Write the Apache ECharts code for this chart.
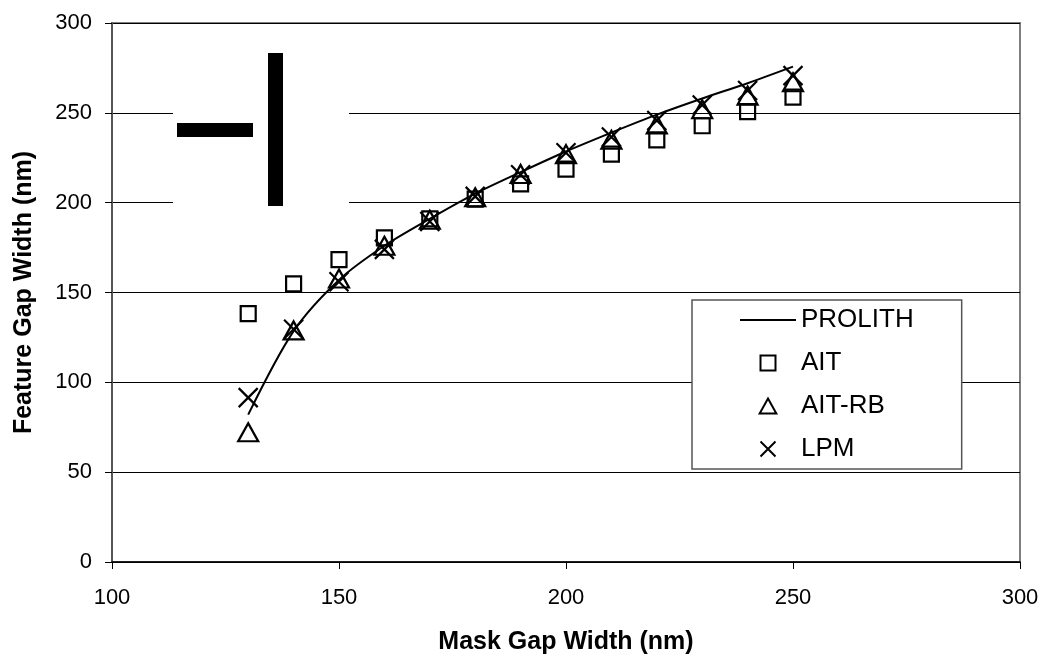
<!DOCTYPE html>
<html>
<head>
<meta charset="utf-8">
<script src="https://cdn.jsdelivr.net/npm/echarts@6/dist/echarts.min.js"></script>
<style>
  html, body { margin: 0; padding: 0; background: #fff; }
  #chart { width: 1046px; height: 660px; }
</style>
</head>
<body>
<div id="chart"></div>
<script>
const maskGap = [130, 140, 150, 160, 170, 180, 190, 200, 210, 220, 230, 240, 250];
const prolith = [82, 128.5, 157, 176, 191, 205, 217, 228.5, 239, 249, 258, 266.5, 275.7];
const ait     = [138.2, 154.8, 168.3, 180.4, 191, 202, 210.5, 218.7, 227, 235, 242.8, 250.7, 258.7];
const aitRb   = [72.2, 128.9, 157.8, 176, 190.5, 203, 216, 227, 235, 243.5, 252, 259.6, 267];
const lpm     = [91.5, 129.5, 156, 174, 189.5, 203.5, 215.5, 227.8, 236.5, 245.7, 254.4, 262.4, 270.7];
const seriesNames = ['PROLITH', 'AIT', 'AIT-RB', 'LPM'];
const xTicks = { min: 100, max: 300, interval: 50 };
const yTicks = { min: 0, max: 300, interval: 50 };

const pairs = (xs, ys) => xs.map((x, i) => [x, ys[i]]);
const FONT = 'Arial, "Liberation Sans", sans-serif';
const linePath = 'path://M0,0H28V1H0Z';
const squarePath = 'path://M0,0H10V10H0Z';
const trianglePath = 'path://M5,0L10,9H0Z';
const crossPath = 'path://M0,0L10,10M10,0L0,10';

const chart = echarts.init(document.getElementById('chart'), null, { renderer: 'canvas' });
chart.setOption({
  animation: false,
  backgroundColor: '#fff',
  textStyle: { fontFamily: FONT },
  grid: {
    left: 112, right: 26, top: 23, bottom: 97,
    show: true, borderColor: '#808080', borderWidth: 2, backgroundColor: 'transparent'
  },
  xAxis: {
    type: 'value', min: xTicks.min, max: xTicks.max, interval: xTicks.interval,
    name: 'Mask Gap Width (nm)', nameLocation: 'middle', nameGap: 68,
    nameTextStyle: { fontFamily: FONT, fontWeight: 'bold', fontSize: 25, color: '#000' },
    axisLine: { show: true, onZero: false, lineStyle: { color: '#000', width: 1.5 } },
    axisTick: { show: true, inside: false, length: 7, lineStyle: { color: '#000', width: 1 } },
    axisLabel: { fontFamily: FONT, fontSize: 22, color: '#000', margin: 25 },
    splitLine: { show: false }
  },
  yAxis: {
    type: 'value', min: yTicks.min, max: yTicks.max, interval: yTicks.interval,
    name: 'Feature Gap Width (nm)', nameLocation: 'middle', nameGap: 75,
    nameTextStyle: { fontFamily: FONT, fontWeight: 'bold', fontSize: 25, color: '#000' },
    axisLine: { show: true, onZero: false, lineStyle: { color: '#555', width: 2 } },
    axisTick: { show: true, inside: false, length: 7, lineStyle: { color: '#000', width: 1 } },
    axisLabel: { fontFamily: FONT, fontSize: 22, color: '#000', margin: 20 },
    splitLine: { show: true, lineStyle: { color: '#000', width: 1 } }
  },
  legend: {
    orient: 'vertical', left: 692, top: 300,
    padding: [6, 48, 6, 48], itemGap: 15,
    itemWidth: 56, itemHeight: 15, symbolKeepAspect: true,
    backgroundColor: '#fff', borderColor: '#555', borderWidth: 1.5,
    textStyle: { fontFamily: FONT, fontSize: 26, color: '#000', lineHeight: 28 },
    data: [
      { name: seriesNames[0], icon: linePath, itemStyle: { color: '#000', borderWidth: 0 } },
      { name: seriesNames[1], icon: squarePath },
      { name: seriesNames[2], icon: trianglePath },
      { name: seriesNames[3], icon: crossPath }
    ]
  },
  graphic: [
    { type: 'rect', z: 5, shape: { x: 173, y: 42, width: 176, height: 172 }, style: { fill: '#fff' } },
    { type: 'rect', z: 6, shape: { x: 177, y: 123, width: 76, height: 14 }, style: { fill: '#000' } },
    { type: 'rect', z: 6, shape: { x: 268, y: 53, width: 15, height: 153 }, style: { fill: '#000' } }
  ],
  series: [
    {
      name: seriesNames[0], type: 'line', data: pairs(maskGap, prolith),
      showSymbol: false, symbol: 'none', smooth: 0.3,
      lineStyle: { color: '#000', width: 2 }, itemStyle: { color: '#000' }, z: 3
    },
    {
      name: seriesNames[1], type: 'scatter', data: pairs(maskGap, ait),
      symbol: squarePath, symbolSize: 15,
      itemStyle: { color: 'rgba(0,0,0,0)', borderColor: '#000', borderWidth: 2.2, opacity: 1 }
    },
    {
      name: seriesNames[2], type: 'scatter', data: pairs(maskGap, aitRb),
      symbol: trianglePath, symbolSize: [20, 18],
      itemStyle: { color: 'rgba(0,0,0,0)', borderColor: '#000', borderWidth: 2.2, opacity: 1 }
    },
    {
      name: seriesNames[3], type: 'scatter', data: pairs(maskGap, lpm),
      symbol: crossPath, symbolSize: 19,
      itemStyle: { color: '#000', borderColor: '#000', borderWidth: 2.2, opacity: 1 }
    }
  ]
});
</script>
</body>
</html>
